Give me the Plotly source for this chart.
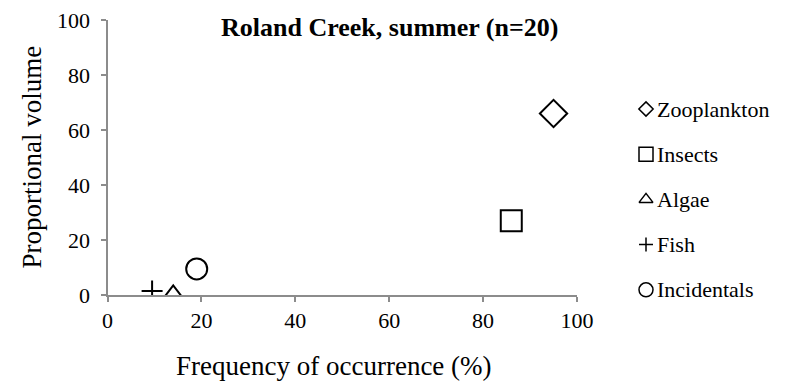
import plotly.graph_objects as go

# Diet categories: frequency of occurrence (%) vs proportional volume
categories = ["Zooplankton", "Insects", "Algae", "Fish", "Incidentals"]
frequency = [95, 86, 14, 9.5, 19]
volume = [66, 27, 0, 1.5, 9.5]

symbols = ["diamond-open", "square-open", "triangle-up-open", "cross-thin-open", "circle-open"]
plot_sizes = [21, 21, 19, 15, 21]
key_sizes = [11, 14, 12, 10, 14]

x_ticks = [0, 20, 40, 60, 80, 100]
y_ticks = [0, 20, 40, 60, 80, 100]

W, H = 809, 384
SERIF = "Liberation Serif"
AXIS_GREY = "#8c8c8c"

# plot box in pixels (left, right, top, bottom)
PL, PR, PT, PB = 107.5, 577, 20, 295
Y_LABEL_EDGE = 90  # y tick labels hang to the left of this line


def px(x):
    return x / W


def py(y):
    return 1 - y / H


fig = go.Figure()

# data markers
for i, name in enumerate(categories):
    fig.add_trace(go.Scatter(
        x=[frequency[i]], y=[volume[i]], mode="markers", name=name,
        showlegend=False, xaxis="x", yaxis="y",
        marker=dict(symbol=symbols[i], size=plot_sizes[i], color="black",
                    line=dict(color="black", width=2)),
    ))

# same points, invisible, carrying the offset y tick-label axis
fig.add_trace(go.Scatter(
    x=frequency, y=volume, mode="markers", showlegend=False, hoverinfo="skip",
    xaxis="x", yaxis="y3", marker=dict(opacity=0),
))

# legend keys drawn on a full-figure pixel subplot
KEY_X, TEXT_X, ROW0, ROW_STEP = 646, 655, 109, 45.2
for i, name in enumerate(categories):
    fig.add_trace(go.Scatter(
        x=[KEY_X], y=[ROW0 + i * ROW_STEP], mode="markers", name=name,
        showlegend=False, xaxis="x2", yaxis="y2", hoverinfo="skip",
        marker=dict(symbol=symbols[i], size=key_sizes[i], color="black",
                    line=dict(color="black", width=1.5)),
    ))

annotations = [
    dict(text="<b>Roland Creek, summer (n=20)</b>", xref="paper", yref="paper",
         x=px(389), y=py(27), xanchor="center", yanchor="middle", showarrow=False,
         font=dict(family=SERIF, size=26, color="black")),
    dict(text="Frequency of occurrence (%)", xref="paper", yref="paper",
         x=px(334), y=py(366), xanchor="center", yanchor="middle",
         showarrow=False, font=dict(family=SERIF, size=27, color="black")),
    dict(text="Proportional volume", xref="paper", yref="paper", textangle=-90,
         x=px(31), y=py((PT + PB) / 2), xanchor="center", yanchor="middle",
         showarrow=False, font=dict(family=SERIF, size=27, color="black")),
]
for i, name in enumerate(categories):
    annotations.append(dict(
        text=name, xref="paper", yref="paper", x=px(TEXT_X), y=py(ROW0 + i * ROW_STEP),
        xanchor="left", yanchor="middle", showarrow=False,
        font=dict(family=SERIF, size=22, color="black")))

axis_common = dict(showgrid=False, zeroline=False, showline=True,
                   linecolor=AXIS_GREY, linewidth=1.5, ticks="outside", ticklen=5,
                   tickcolor=AXIS_GREY, tickwidth=1.5, automargin=False,
                   tickfont=dict(family=SERIF, size=22, color="black"))

fig.update_layout(
    width=W, height=H,
    margin=dict(l=0, r=0, t=0, b=0, pad=0),
    paper_bgcolor="white", plot_bgcolor="rgba(0,0,0,0)",
    font=dict(family=SERIF, size=22, color="black"),
    showlegend=False,
    xaxis=dict(range=[0, 100], tickvals=x_ticks, domain=[px(PL), px(PR)],
               anchor="y", **axis_common),
    yaxis=dict(range=[0, 100], tickvals=y_ticks, domain=[py(PB), py(PT)],
               anchor="x", showticklabels=False, **axis_common),
    yaxis3=dict(range=[0, 100], tickvals=y_ticks, overlaying="y", anchor="free",
                position=px(Y_LABEL_EDGE), side="left", showline=False, ticks="",
                showgrid=False, zeroline=False, automargin=False,
                tickfont=dict(family=SERIF, size=22, color="black")),
    xaxis2=dict(range=[0, W], domain=[0, 1], visible=False, fixedrange=True,
                anchor="y2"),
    yaxis2=dict(range=[H, 0], domain=[0, 1], visible=False, fixedrange=True,
                anchor="x2"),
    annotations=annotations,
)

fig.write_html("out.html")
